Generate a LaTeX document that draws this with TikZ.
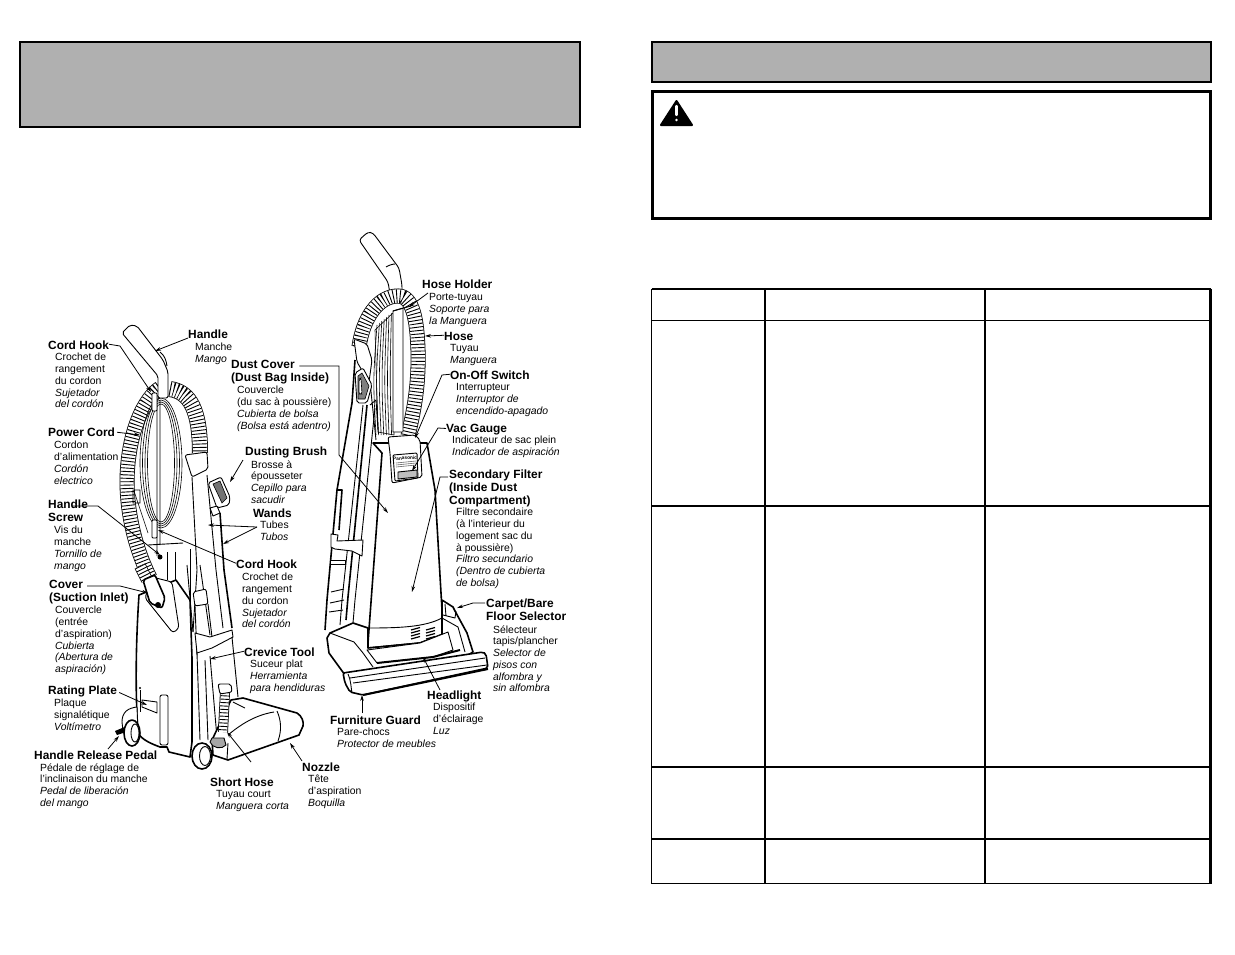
\documentclass[tikz,border=0pt]{standalone}
\usepackage{fontspec}
\setmainfont{Liberation Sans}
\usetikzlibrary{arrows.meta,calc}
\tikzset{
  x=1pt,y=-1pt,
  hd/.style={anchor=north west,inner sep=0pt,align=left,font=\fontsize{11.9}{13}\selectfont\bfseries,execute at begin node=\rule{0pt}{10pt}},
  hdm/.style={hd,yshift=-2pt},
  bd/.style={anchor=north west,inner sep=0pt,align=left,yshift=-2.2pt,font=\fontsize{10.4}{11.75}\selectfont,execute at begin node=\rule{0pt}{10pt}},
  leader/.style={line width=.8pt,-{Stealth[length=6pt,width=3.6pt]}},
  vt/.style={line width=.9pt,line join=round},
  vb/.style={line width=1.6pt,line join=round},
  vf/.style={line width=.6pt},
  hose/.style={line width=#1pt,black,postaction={draw=white,line width=#1pt-1.6pt},postaction={draw=black,line width=#1pt-1.6pt,dash pattern=on .9pt off 2.5pt}},
  hose/.default=15,
  greybox/.style={draw=black,line width=2pt,fill=black!31},
  warnbox/.style={draw=black,line width=3pt},
  tbl/.style={draw=black,line width=1.5pt},
  tblv/.style={draw=black,line width=2pt},
}
\begin{document}
\begin{tikzpicture}
\useasboundingbox (0,0) rectangle (1235,954);
% ---------- boxes
\draw[greybox] (20,42) rectangle (580,127);
\draw[greybox] (652,42) rectangle (1211,81.5);
\draw[warnbox] (652.5,91.5) rectangle (1210.5,218.5);
\draw[black,fill=black,line width=2pt,line join=round] (676.5,101) -- (661,125) -- (692,125) -- cycle;
\draw[white,line width=2.2pt,line cap=round] (676.5,106) -- (676.5,115);
\fill[white] (676.5,120) circle (1.4);
% ---------- table
\draw[tbl] (651.5,289) -- (1211,289) (651.5,320.5) -- (1211,320.5) (651.5,506) -- (1211,506) (651.5,767) -- (1211,767) (651.5,839) -- (1211,839) (651.5,883.5) -- (1211,883.5) (651.5,289) -- (651.5,883.5);
\draw[tblv] (765,289) -- (765,883.5) (985,289) -- (985,883.5);
\draw[draw=black,line width=2.6pt] (1210.7,288.5) -- (1210.7,884);
% ---------- left vacuum
\draw[hose] (160,388) .. controls (145,398) and (128,430) .. (127,480) .. controls (127,515) and (136,550) .. (150,578);
\foreach \r/\s in {21/65,18.5/63,16/61,13.5/59}{\draw[vf] (161,463) ellipse (\r pt and \s pt);}
\draw[hose=16] (170,389) .. controls (190,392) and (200,410) .. (200,453);
\draw[vt,fill=white,rounded corners=2pt] (185,455) -- (207,452) -- (208,469) -- (192,477) -- cycle;
\draw[vt,fill=white,rounded corners=2pt] (122,333) -- (130,325) -- (137,326) -- (163,360) -- (168,372) -- (168,398) -- (158,398) -- (158,376) -- cycle;
\draw[vt] (160,352) .. controls (165,356) and (166,360) .. (167,366);
\draw[vt] (157,395) -- (157,556) (160,400) -- (160,545) (148,545) -- (183,543);
\draw[vf] (134,491) -- (148,533) (133,490) rectangle (140,503);
% cord hooks
\draw[vt,fill=white,rounded corners=1pt] (152,393) -- (157,393) -- (157,411) -- (152,411) -- cycle;
\draw[vt,fill=white,rounded corners=1pt] (152,520) -- (157,520) -- (157,538) -- (152,538) -- cycle;
\fill (160,557) circle (2.5);
% wands
\draw[vt] (192,477) -- (197,570) -- (193,632);
\draw[vt] (207,475) -- (216,570) -- (223,628);
\draw[vt] (200,565) -- (210,635) (187,565) -- (193,632);
\draw[vb] (220,513) -- (224,570) -- (232,628);
\draw[vt,fill=white] (210,508) -- (217,506) -- (220,513) -- (213,516) -- cycle;
% dusting brush
\draw[vt,fill=white,rounded corners=2pt] (208,483) -- (221,477) -- (230,497) -- (229,505) -- (217,508) -- cycle;
\draw[vf,fill=black!55] (213,484) -- (220,481) -- (227,498) -- (222,503) -- cycle;
% body
\draw[vb,fill=white] (139,595) .. controls (136,640) and (135,690) .. (138,733) .. controls (142,740) and (152,744) .. (160,747) -- (167,747) -- (169,752) -- (190,757) -- (192,742) -- (192,658) -- (190,600) -- (176,580) -- cycle;
\draw[vt] (167,552) -- (167,580) (175,552) -- (175,580) (190,549) -- (190,600);
\draw[vt,fill=white,rounded corners=2pt] (160,695) -- (168,695) -- (168,745) -- (160,745) -- cycle;
\draw[vt,fill=white] (142,700) -- (157,702) -- (157,713) -- (142,707) -- cycle;
\draw[line width=.8pt] (140,690) -- (140,712) (192,698) -- (192,720);
\fill (140,688) circle (1.2) (192,696) circle (1.2);
% housing and rear wheel
\draw[vt,fill=white] (137,707) .. controls (128,708) and (122,712) .. (122,722) -- (123,731) -- (138,733) -- cycle;
\fill (115,731) -- (127,726) -- (129,731) -- (117,735) -- cycle;
\draw[vb,fill=white] (132,733) ellipse (8pt and 13pt);
\draw[vt] (135,733) ellipse (4pt and 9pt);
% cover
\draw[hose=12] (140,566) -- (147,580);
\draw[vt,fill=white,rounded corners=3pt] (152,577) -- (172,582) -- (179,628) -- (173,633) -- (145,598) -- cycle;
\draw[vb,fill=white,rounded corners=2pt] (143,580) -- (155,575) -- (165,598) -- (162,608) -- (150,603) -- cycle;
\fill (158,605) circle (3);
% crevice tool and nozzle
\draw[vt,fill=white,rounded corners=2pt] (193,592) -- (206,589) -- (208,604) -- (195,606) -- cycle;
\draw[vt] (195,606) -- (197,655) (208,604) -- (212,637);
\draw[vt,fill=white] (195,633) -- (210,637) -- (232,630) -- (233,637) -- (212,648) -- (197,653) -- cycle;
\draw[vt] (210,656) -- (217,738) (232,637) -- (238,697) (197,653) -- (200,740) (205,660) -- (208,740);
\draw[vb,fill=white] (231,700) -- (243,698) -- (297,713) .. controls (302,716) and (304,722) .. (303,726) -- (299,735) -- (228,760) -- (213,755) -- (212,740) -- cycle;
\draw[vt] (277,711) .. controls (281,720) and (282,730) .. (278,741) (228,735) .. controls (240,725) and (255,715) .. (274,712) (233,702) -- (245,708) (228,743) -- (227,759);
\draw[hose=10] (225,692) -- (223,732);
\draw[vt,fill=white,rounded corners=2pt] (218,684) -- (231,684) -- (232,692) -- (220,694) -- cycle;
\draw[vt,fill=black!35] (210,742) .. controls (212,748) and (222,750) .. (226,745) -- (224,738) -- (212,738) -- cycle;
% front wheel
\draw[vb,fill=white] (202,756) ellipse (10pt and 13pt);
\draw[vt] (205,756) ellipse (5.5pt and 9.5pt);
% ---------- right vacuum
\draw[vt,fill=white,rounded corners=3pt] (359,240) -- (368,232) -- (373,233) -- (399,268) -- (402,285) -- (402,294) -- (390,294) -- (388,282) -- cycle;
\draw[vt] (386,267) .. controls (389,265) and (393,264) .. (395,264);
\draw[vf,fill=white] (375,330) -- (394,312) -- (394,435) -- (378,432) -- cycle;
\foreach \i in {0,...,6}{\draw[vf] ({377+\i*2.4},{325-\i*2}) .. controls ({373+\i*2.8},380) .. ({376+\i*2.6},435);}
\draw[hose=15] (359,347) .. controls (363,318) and (378,296) .. (398,296) .. controls (413,296) and (417,320) .. (418,350) .. controls (419,385) and (414,410) .. (408,436);
\draw[vt,fill=white] (393,311) -- (403,308) -- (403,432) -- (393,432) -- cycle;
\draw[vt] (393,311) -- (411,306);
\draw[vt,fill=white,rounded corners=2pt] (354,339) -- (367,344) -- (372,360) -- (369,382) -- (357,362) -- cycle;
% wands
\draw[vb] (355,360) -- (352,403) -- (337,490) -- (327,600) -- (325,630);
\draw[vb] (367,405) -- (348,597) -- (346,620);
\draw[vt] (363,405) -- (342,600) -- (340,625) (375,408) -- (355,600) -- (353,623);
\draw[vt] (370,382) -- (376,440) (370,405) -- (376,400) -- (378,430);
\draw[vb] (337,490) -- (342,490) -- (339,530);
% brush
\draw[vt,fill=white,rounded corners=2pt] (357,403) -- (355,373) -- (363,368) -- (372,385) -- (367,403) -- cycle;
\draw[vf,fill=black!50] (358,399) -- (358,376) -- (362,373) -- (369,386) -- (365,399) -- cycle;
\draw[vf,fill=white,rounded corners=2pt] (359,394) -- (359,379) -- (361,378) -- (362,394) -- cycle;
% band
\draw[vt,fill=white] (331,534) -- (338,535) -- (337,541) -- (363,540) -- (362,556) -- (352,551) -- (335,549) -- (331,547) -- cycle;
\draw[vt,fill=white] (330,560) rectangle (345,564);
\draw[vt] (331,592) -- (344,589) (330,603) -- (344,600) (329,612) -- (343,610);
% main body
\draw[vb,fill=white] (373,443) -- (382,453) -- (368,643) -- (368,648) -- (420,643) -- (448,632) -- (442,610) -- (435,490) -- (427,443) -- cycle;
\draw[vt] (368,628) .. controls (400,628) and (425,627) .. (442,618);
\draw[vt,fill=white,rounded corners=2pt] (388,437) -- (415,435) -- (420,440) -- (422,477) -- (392,483) -- (390,453) -- cycle;
\draw[vt,fill=white,rounded corners=1pt] (393,455) -- (417,453) -- (418,478) -- (395,481) -- cycle;
\node[inner sep=0pt,font=\fontsize{4.8}{5}\selectfont\bfseries,rotate=4] (brand) at (405,458) {Panasonic};
\draw[vf,draw=black!60] (396,463) -- (416,461) (396,465) -- (416,463) (396,467) -- (416,465);
\draw[vt,fill=black!25] (398,472) -- (417,470) -- (417,477) -- (398,479) -- cycle;
% grilles
\foreach \x in {411,426}{\foreach \y in {630,633,636,639}{\draw[line width=1.2pt] (\x,\y) -- (\x+9,\y-2.5);}}
% nozzle base
\draw[vb,fill=white] (327,638) -- (330,633) -- (353,623) -- (368,628) -- (368,648) -- (420,643) -- (442,635) -- (442,600) -- (453,607) -- (455,611) -- (467,633) -- (473,652) -- (440,672) -- (345,675) -- (329,653) -- cycle;
\draw[vt] (330,633) -- (354,642) -- (363,653) -- (373,667);
\draw[vt] (443,615) -- (455,618) -- (456,611) (442,618) -- (458,627) -- (465,652) (445,604) -- (446,616);
\draw[vt,fill=white] (367,650) -- (377,663) -- (433,657) -- (453,650) -- (448,632) -- (420,643) -- cycle;
\draw[line width=2pt] (377,663) -- (433,657) -- (460,650);
\draw[vb,fill=white,rounded corners=2pt] (343,673) -- (483,652) -- (486,654) -- (488,668) -- (363,695) -- (350,692) -- (345,683) -- cycle;
\draw[vt] (350,678) -- (485,658) (353,683) -- (487,665) (348,674) .. controls (351,680) and (351,688) .. (352,693);
\draw[line width=2pt] (363,695) -- (488,669);
% ---------- leaders
\coordinate (bH) at (178,338); \coordinate (tH) at (155,351);
\coordinate (bCH) at (120,346); \coordinate (tCH) at (151,392);
\coordinate (tPC) at (140,435);
\coordinate (bHS) at (98,506); \coordinate (tHS) at (160,555);
\coordinate (tCH2) at (158,530);
\coordinate (bDB) at (243,460); \coordinate (tDB) at (230,482);
\coordinate (bW) at (257,527); \coordinate (tW1) at (208,525); \coordinate (tW2) at (223,544);
\coordinate (bDC1) at (339,366); \coordinate (bDC2) at (339,455); \coordinate (tDC) at (388,513);
\coordinate (bC) at (120,586); \coordinate (tC) at (148,593);
\coordinate (tCT) at (210,659);
\coordinate (tRP) at (147,705);
\coordinate (bPD) at (108,749); \coordinate (tPD) at (119,736);
\coordinate (bNZ) at (302,761); \coordinate (tNZ) at (290,743);
\coordinate (bSH) at (251,762); \coordinate (tSH) at (227,732);
\coordinate (bHH) at (428,293); \coordinate (tHH) at (409,307);
\coordinate (tHO) at (425,336);
\coordinate (bOO) at (442,375); \coordinate (tOO) at (415,438);
\coordinate (bVG) at (438,428); \coordinate (tVG) at (412,471);
\coordinate (bSF) at (440,477); \coordinate (tSF) at (412,592);
\coordinate (bCB) at (473,603); \coordinate (tCB) at (457,608);
\coordinate (bHL) at (440,690); \coordinate (tHL) at (423,657);
\coordinate (bFG) at (362,713); \coordinate (tFG) at (362,695);
% ---------- labels
\node[hd] (lHandle) at (188,328) {Handle};
\node[bd] (dHandle) at (195,341) {Manche\\\textit{Mango}};
\node[hd] (lCordHook) at (48,339) {Cord Hook};
\node[bd] (dCordHook) at (55,351) {Crochet de\\rangement\\du cordon\\\textit{Sujetador}\\\textit{del cordón}};
\node[hd] (lPower) at (48,426) {Power Cord};
\node[bd] (dPower) at (54,439) {Cordon\\d’alimentation\\\textit{Cordón}\\\textit{electrico}};
\node[hdm] (lScrew) at (48,498) {Handle\\Screw};
\node[bd] (dScrew) at (54,524) {Vis du\\manche\\\textit{Tornillo de}\\\textit{mango}};
\node[hdm] (lCover) at (49,578) {Cover\\(Suction Inlet)};
\node[bd] (dCover) at (55,604) {Couvercle\\(entrée\\d’aspiration)\\\textit{Cubierta}\\\textit{(Abertura de}\\\textit{aspiración)}};
\node[hd] (lRating) at (48,684) {Rating Plate};
\node[bd] (dRating) at (54,697) {Plaque\\signalétique\\\textit{Voltímetro}};
\node[hd] (lPedal) at (34,749) {Handle Release Pedal};
\node[bd] (dPedal) at (40,761) {Pédale de réglage de\\l’inclinaison du manche\\\textit{Pedal de liberación}\\\textit{del mango}};
\node[hd] (lShort) at (210,776) {Short Hose};
\node[bd] (dShort) at (216,788) {Tuyau court\\\textit{Manguera corta}};
\node[hd] (lNozzle) at (302,761) {Nozzle};
\node[bd] (dNozzle) at (308,773) {Tête\\d’aspiration\\\textit{Boquilla}};
\node[hdm] (lDust) at (231,358) {Dust Cover\\(Dust Bag Inside)};
\node[bd] (dDust) at (237,384) {Couvercle\\(du sac à poussière)\\\textit{Cubierta de bolsa}\\\textit{(Bolsa está adentro)}};
\node[hd] (lBrush) at (245,445) {Dusting Brush};
\node[bd] (dBrush) at (251,458) {Brosse à\\épousseter\\\textit{Cepillo para}\\\textit{sacudir}};
\node[hd] (lWands) at (253,507) {Wands};
\node[bd] (dWands) at (260,519) {Tubes\\\textit{Tubos}};
\node[hd] (lCordHookB) at (236,558) {Cord Hook};
\node[bd] (dCordHookB) at (242,571) {Crochet de\\rangement\\du cordon\\\textit{Sujetador}\\\textit{del cordón}};
\node[hd] (lCrevice) at (244,646) {Crevice Tool};
\node[bd] (dCrevice) at (250,658) {Suceur plat\\\textit{Herramienta}\\\textit{para hendiduras}};
\node[hd] (lHolder) at (422,278) {Hose Holder};
\node[bd] (dHolder) at (429,291) {Porte-tuyau\\\textit{Soporte para}\\\textit{la Manguera}};
\node[hd] (lHose) at (444,330) {Hose};
\node[bd] (dHose) at (450,342) {Tuyau\\\textit{Manguera}};
\node[hd] (lSwitch) at (450,369) {On-Off Switch};
\node[bd] (dSwitch) at (456,381) {Interrupteur\\\textit{Interruptor de}\\\textit{encendido-apagado}};
\node[hd] (lGauge) at (446,422) {Vac Gauge};
\node[bd] (dGauge) at (452,434) {Indicateur de sac plein\\\textit{Indicador de aspiración}};
\node[hdm] (lFilter) at (449,468) {Secondary Filter\\(Inside Dust\\Compartment)};
\node[bd] (dFilter) at (456,506) {Filtre secondaire\\(à l’interieur du\\logement sac du\\à poussière)\\\textit{Filtro secundario}\\\textit{(Dentro de cubierta}\\\textit{de bolsa)}};
\node[hdm] (lCarpet) at (486,597) {Carpet/Bare\\Floor Selector};
\node[bd] (dCarpet) at (493,623) {Sélecteur\\tapis/plancher\\\textit{Selector de}\\\textit{pisos con}\\\textit{alfombra y}\\\textit{sin alfombra}};
\node[hd] (lHead) at (427,689) {Headlight};
\node[bd] (dHead) at (433,701) {Dispositif\\d’éclairage\\\textit{Luz}};
\node[hd] (lGuard) at (330,714) {Furniture Guard};
\node[bd] (dGuard) at (337,726) {Pare-chocs\\\textit{Protector de meubles}};
% ---------- connectors
\draw[leader] (lHandle.west |- bH) -- (tH);
\draw[leader] (lCordHook.east) -- (bCH) -- (tCH);
\draw[leader] (lPower.east) ++(2,1) -- (tPC);
\draw[leader] (lScrew.east |- bHS) ++(-16,0) -- (bHS) -- (tHS);
\draw[leader] (lCordHookB.west) -- (tCH2);
\draw[leader] (bDB) -- (tDB);
\draw[leader] (bW) -- (tW1);
\draw[leader] (bW) -- (tW2);
\draw[leader] (lDust.north east) ++(-30,6) -- (bDC1) -- (bDC2) -- (tDC);
\draw[leader] (lCover.north west) ++(38,6) -- (bC) -- (tC);
\draw[leader] (lCrevice.west) -- (tCT);
\draw[leader] (lRating.east) ++(2,2) -- (tRP);
\draw[leader] (bPD) -- (tPD);
\draw[leader] (bNZ) -- (tNZ);
\draw[leader] (bSH) -- (tSH);
\draw[leader] (bHH) -- (tHH);
\draw[leader] (lHose.west) -- (tHO);
\draw[leader] (lSwitch.west) -- (bOO) -- (tOO);
\draw[leader] (lGauge.west) -- (bVG) -- (tVG);
\draw[leader] (lFilter.north west) ++(-1,7) -- (bSF) -- (tSF);
\draw[leader] (lCarpet.north west) ++(-1,4) -- (bCB) -- (tCB);
\draw[leader] (bHL) -- (tHL);
\draw[leader] (bFG) -- (tFG);
\end{tikzpicture}
\end{document}
